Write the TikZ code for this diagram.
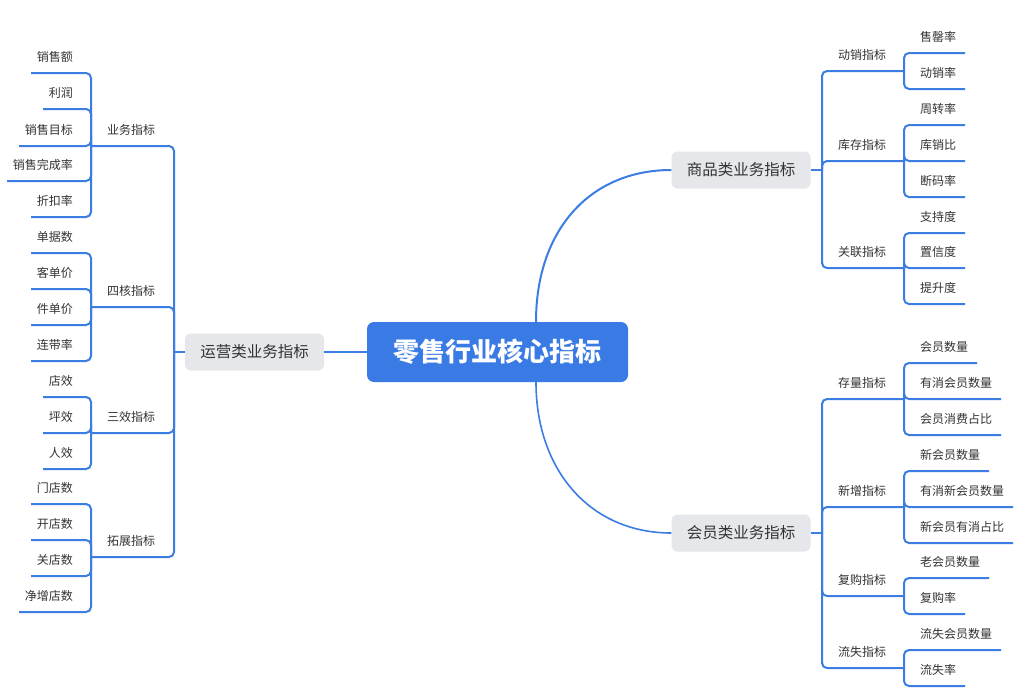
\documentclass[tikz,border=0pt]{standalone}
\usepackage{fontspec}
\newfontfamily\cjk{Noto Sans CJK SC}
\definecolor{lineblue}{RGB}{59,125,226}
\definecolor{rootblue}{RGB}{58,122,228}
\definecolor{boxgray}{RGB}{229,231,235}
\definecolor{txt}{RGB}{51,51,51}
\tikzset{
  conn/.style={draw=lineblue, line width=2pt, rounded corners=5pt},
  leaf/.style={inner sep=0pt, text=txt, font=\cjk\fontsize{12}{14}\selectfont},
  mainbox/.style={fill=boxgray, rounded corners=6pt, text=txt, inner sep=0pt,
    minimum width=139pt, minimum height=37pt, font=\cjk\fontsize{15.5}{18}\selectfont},
  rootbox/.style={fill=rootblue, rounded corners=7pt, text=white, inner sep=0pt,
    minimum width=261pt, minimum height=60pt, font=\cjk\bfseries\fontsize{26}{30}\selectfont}
}
\begin{document}
\begin{tikzpicture}[x=1pt,y=-1pt]
\path[use as bounding box, fill=white] (0,0) rectangle (1025,696);

% root and main boxes
\node[rootbox] (root) at (497.5,352) {零售行业核心指标};
\node[mainbox] (ops) at (254.5,352) {运营类业务指标};
\node[mainbox] (goods) at (741,170) {商品类业务指标};
\node[mainbox] (member) at (741,533) {会员类业务指标};

\draw[conn] (root.west) -- (ops.east);
\draw[conn] ([xshift=38.5pt]root.north) .. controls (536,230) and (590,170) .. (goods.west);
\draw[conn, line width=1.6pt] ([xshift=38.5pt]root.south) .. controls (536,470) and (590,533) .. (member.west);

% trunk points
\coordinate (lt) at (174,352);
\coordinate (gt) at (822,170);
\coordinate (mt) at (822,533);
\draw[conn] (ops.west) -- (lt);
\draw[conn] (goods.east) -- (gt);
\draw[conn] (member.east) -- (mt);

% left level-2
\foreach \nm/\txt/\yy in {yw/业务指标/146, sh/四核指标/307, sx/三效指标/433, tz/拓展指标/557}{
  \node[leaf, anchor=west] (\nm) at (107,\yy-16) {\txt};
  \coordinate (\nm e) at (91,\yy);
  \draw[conn] (lt) |- (\nm e);
}
% right level-2
\foreach \nm/\txt/\yy/\pa in {dx/动销指标/71/gt, kc/库存指标/161/gt, gl/关联指标/268/gt,
  cl/存量指标/399/mt, xz/新增指标/507/mt, fg/复购指标/596/mt, ls/流失指标/668/mt}{
  \node[leaf, anchor=west] (\nm) at (838,\yy-16) {\txt};
  \coordinate (\nm e) at (904,\yy);
  \draw[conn] (\pa) |- (\nm e);
}

% left leaves
\foreach \nm/\txt/\yy/\n/\pa in {
  a1/销售额/73/3/yw, a2/利润/109/2/yw, a3/销售目标/146/4/yw, a4/销售完成率/181/5/yw, a5/折扣率/217/3/yw,
  b1/单据数/253/3/sh, b2/客单价/289/3/sh, b3/件单价/325/3/sh, b4/连带率/361/3/sh,
  c1/店效/397/2/sx, c2/坪效/433/2/sx, c3/人效/469/2/sx,
  d1/门店数/504/3/tz, d2/开店数/540/3/tz, d3/关店数/576/3/tz, d4/净增店数/612/4/tz}{
  \node[leaf, anchor=east] (\nm) at (73,\yy-16) {\txt};
  \coordinate (\nm e) at (67-12*\n,\yy);
  \draw[conn] (\pa e) |- (\nm e);
}

% right leaves
\foreach \nm/\txt/\yy/\n/\pa in {
  e1/售罄率/53/3/dx, e2/动销率/89/3/dx,
  f1/周转率/125/3/kc, f2/库销比/161/3/kc, f3/断码率/197/3/kc,
  g1/支持度/233/3/gl, g2/置信度/268/3/gl, g3/提升度/304/3/gl,
  h1/会员数量/363/4/cl, h2/有消会员数量/399/6/cl, h3/会员消费占比/435/6/cl,
  i1/新会员数量/471/5/xz, i2/有消新会员数量/507/7/xz, i3/新会员有消占比/543/7/xz,
  j1/老会员数量/578/5/fg, j2/复购率/614/3/fg,
  k1/流失会员数量/650/6/ls, k2/流失率/686/3/ls}{
  \node[leaf, anchor=west] (\nm) at (920,\yy-16) {\txt};
  \coordinate (\nm e) at (929+12*\n,\yy);
  \draw[conn] (\pa e) |- (\nm e);
}
\end{tikzpicture}
\end{document}
